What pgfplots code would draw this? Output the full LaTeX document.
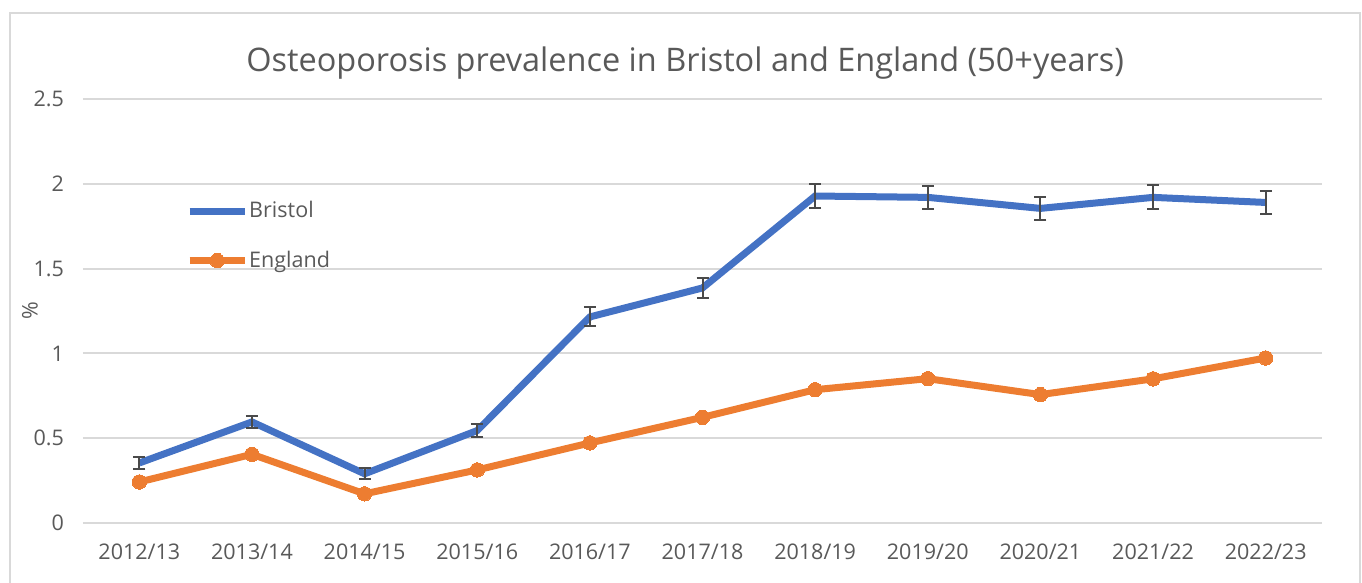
\documentclass[border=0pt]{standalone}
\usepackage{pgfplots}
\pgfplotsset{compat=1.18}
\usepackage{fontspec}
\setmainfont{Open Sans}
\definecolor{bristol}{HTML}{4472C4}
\definecolor{england}{HTML}{ED7D31}
\definecolor{txt}{HTML}{595959}
\definecolor{gridc}{HTML}{D9D9D9}
\definecolor{errc}{HTML}{4A4A4A}
\begin{document}
\begin{tikzpicture}
\useasboundingbox (0,0) rectangle (681bp,291.5bp);
\draw[gridc, line width=1.2bp] (5bp,-5bp) -- (5bp,285bp) -- (680bp,285bp) -- (680bp,-5bp);
\begin{axis}[
  at={(41.5bp,30bp)}, anchor=south west,
  scale only axis, width=619.5bp, height=212bp,
  xmin=-0.5, xmax=10.5, ymin=0, ymax=2.5,
  xtick={0,...,10},
  xticklabels={2012/13,2013/14,2014/15,2015/16,2016/17,2017/18,2018/19,2019/20,2020/21,2021/22,2022/23},
  ytick={0,0.5,1,1.5,2,2.5},
  yticklabels={0,0.5,1,1.5,2,2.5},
  major tick length=0pt,
  axis line style={draw=none},
  ymajorgrids, grid style={gridc, line width=1bp},
  tick label style={font=\fontsize{10.8}{12}\selectfont, text=txt},
  xticklabel style={yshift=-7bp},
  yticklabel style={xshift=-6bp},
  ylabel={\%}, ylabel style={font=\fontsize{10.8}{12}\selectfont, text=txt, at={(-0.0428,0.5)}, anchor=center},
  title={Osteoporosis prevalence in Bristol and England (50+years)},
  title style={font=\fontsize{16.3}{19}\selectfont, text=txt, at={(0.486,1.057)}, anchor=center},
  legend style={draw=none, fill=none, at={(0.083,0.677)}, anchor=west, inner sep=0pt,
    font=\fontsize{10.8}{12}\selectfont, text=txt, row sep=14bp, nodes={inner sep=0.5bp}},
  legend cell align=left,
  legend image code/.code={\draw[mark repeat=2,mark phase=2,#1] plot coordinates {(0bp,0bp) (13.75bp,0bp) (27.5bp,0bp)};},
  clip=false,
]
\addplot[bristol, line width=3.5bp, no marks,
  error bars/.cd, y dir=both, y explicit,
  error bar style={errc, line width=1bp},
  error mark options={errc, line width=1bp, mark size=3bp, rotate=90}]
  coordinates {
  (0,0.354) +- (0,0.035)
  (1,0.596) +- (0,0.036)
  (2,0.290) +- (0,0.032)
  (3,0.545) +- (0,0.037)
  (4,1.215) +- (0,0.056)
  (5,1.386) +- (0,0.060)
  (6,1.928) +- (0,0.072)
  (7,1.920) +- (0,0.068)
  (8,1.855) +- (0,0.068)
  (9,1.920) +- (0,0.070)
  (10,1.890) +- (0,0.068)
  };
\addlegendentry{Bristol}
\addplot[england, line width=3.5bp, mark=*, mark size=3.6bp, mark options={fill=england, draw=england, line width=0pt}]
  coordinates {
  (0,0.242) (1,0.405) (2,0.172) (3,0.313) (4,0.472) (5,0.623)
  (6,0.786) (7,0.851) (8,0.757) (9,0.850) (10,0.973)
  };
\addlegendentry{England}
\end{axis}
\end{tikzpicture}
\end{document}
